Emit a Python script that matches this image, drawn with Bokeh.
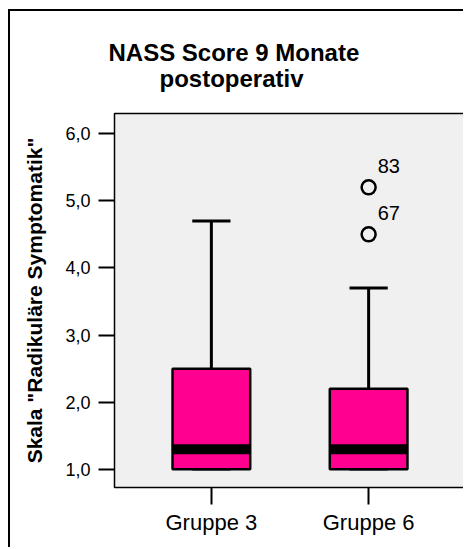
from bokeh.plotting import figure
from bokeh.models import FactorRange, FixedTicker, Title, ColumnDataSource
from bokeh.core.properties import value
from bokeh.embed import file_html
from bokeh.resources import INLINE

# ---- data ----
groups = ["Gruppe 3", "Gruppe 6"]
q1 = [1.0, 1.0]
median = [1.3, 1.3]
q3 = [2.5, 2.2]
whisker_lo = [1.0, 1.0]
whisker_hi = [4.7, 3.7]

outlier_group = ["Gruppe 6", "Gruppe 6"]
outlier_value = [5.2, 4.5]
outlier_id = ["83", "67"]

y_ticks = [1, 2, 3, 4, 5, 6]
y_tick_labels = ["1,0", "2,0", "3,0", "4,0", "5,0", "6,0"]

title_lines = ["NASS Score 9 Monate", "postoperativ"]
y_title = 'Skala "Radikuläre Symptomatik"'

FONT = "Liberation Sans"
PINK = "#ff0090"

p = figure(
    width=455, height=538,
    x_range=FactorRange(factors=groups, range_padding=0.116, range_padding_units="absolute"),
    y_range=(0.73, 6.30),
    output_backend="svg", toolbar_location=None,
    background_fill_color="#f0f0f0", border_fill_color="white",
    min_border_left=104, min_border_right=0, min_border_top=102, min_border_bottom=62,
)
p.styles = {"margin-left": "8px", "margin-top": "9px",
            "border-left": "2px solid black", "border-top": "2px solid black"}
p.outline_line_color = "black"
p.outline_line_width = 1.5
p.grid.visible = False

src = ColumnDataSource(dict(g=groups, q1=q1, med=median, q3=q3, lo=whisker_lo, hi=whisker_hi))

# whiskers (behind the boxes)
p.segment(x0="g", y0="q3", x1="g", y1="hi", source=src, line_color="black", line_width=3)
p.segment(x0="g", y0="lo", x1="g", y1="q1", source=src, line_color="black", line_width=3)
p.rect(x="g", y="hi", width=0.243, height=3, height_units="screen", source=src,
       fill_color="black", line_color=None)
p.rect(x="g", y="lo", width=0.243, height=3, height_units="screen", source=src,
       fill_color="#555555", line_color=None)

# boxes
p.vbar(x="g", bottom="q1", top="q3", width=0.494, source=src,
       fill_color=PINK, line_color="black", line_width=2.5)
# median band
p.rect(x="g", y="med", width=0.494, height=10, height_units="screen", source=src,
       fill_color="black", line_color=None)

# outliers
osrc = ColumnDataSource(dict(g=outlier_group, v=outlier_value, t=outlier_id))
p.scatter(x="g", y="v", source=osrc, marker="circle", size=14,
          fill_color=None, line_color="black", line_width=2.5)
p.text(x="g", y="v", text="t", source=osrc, x_offset=9, y_offset=-21,
       text_font=value(FONT), text_font_size="20px", text_baseline="alphabetic",
       text_align="left", text_color="black")

# axes
yax = p.yaxis[0]
yax.ticker = FixedTicker(ticks=y_ticks)
yax.major_label_overrides = {t: l for t, l in zip(y_ticks, y_tick_labels)}
yax.axis_label = y_title
yax.axis_label_text_font = FONT
yax.axis_label_text_font_style = "bold"
yax.axis_label_text_font_size = "21px"
yax.axis_label_text_color = "black"
yax.axis_label_standoff = 16
yax.major_label_text_font = FONT
yax.major_label_text_font_size = "18px"
yax.major_label_standoff = 8

xax = p.xaxis[0]
xax.major_label_text_font = FONT
xax.major_label_text_font_size = "22px"
xax.major_label_standoff = 5

for ax in (xax, yax):
    ax.axis_line_color = None
    ax.major_tick_in = 0
    ax.major_tick_line_color = "black"
    ax.major_tick_line_width = 2
    ax.minor_tick_line_color = None
    ax.major_label_text_color = "black"
yax.major_tick_out = 16
xax.major_tick_out = 17

# two-line title, placed above the plot
t2 = Title(text=title_lines[1], align="left", offset=45, text_font=FONT,
           text_font_style="bold", text_font_size="24px", text_color="black",
           standoff=43)
t1 = Title(text=title_lines[0], align="left", offset=-6, text_font=FONT,
           text_font_style="bold", text_font_size="24px", text_color="black",
           standoff=-48)
p.add_layout(t2, "above")
p.add_layout(t1, "above")

open("out.html", "w").write(file_html(p, INLINE))
